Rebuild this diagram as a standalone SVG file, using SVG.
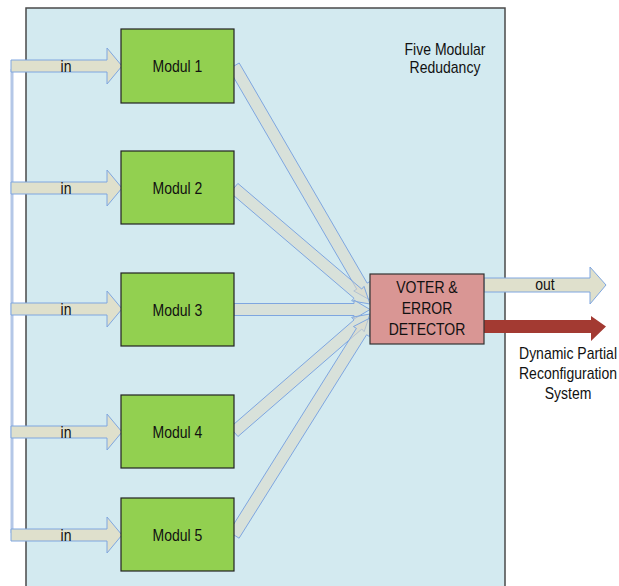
<svg xmlns="http://www.w3.org/2000/svg" width="619" height="586" viewBox="0 0 619 586">
  <defs>
    <style>
      .lbl { font-family: "Liberation Sans", Arial, sans-serif; font-size: 14px; fill: #111; text-anchor: middle; }
      .module { fill: #92d050; stroke: #222; stroke-width: 1.2; }
      .voter { fill: #d99694; stroke: #333; stroke-width: 1.2; }
      .inarrow { fill: #dfe0cc; stroke: #7ea6e0; stroke-width: 1; }
      .conv { fill: #dcd8c8; fill-opacity: 0.55; stroke: #7ea6e0; stroke-width: 1; }
    </style>
  </defs>

  <rect width="619" height="586" fill="#ffffff"/>

  <!-- system boundary -->
  <rect id="fmr-panel" x="26" y="8" width="479" height="590" fill="#d3eaf0" stroke="#4a4a4a" stroke-width="1.5"/>

  <g id="connectors">
    <!-- input bus -->
    <line x1="12" y1="69" x2="12" y2="533" stroke="#b4c7e7" stroke-width="3"/>
    <!-- inputs -->
    <polygon class="inarrow" points="11,60 107,60 107,48 122,66 107,84 107,72 11,72"/>
    <polygon class="inarrow" points="11,182 107,182 107,170 122,188 107,206 107,194 11,194"/>
    <polygon class="inarrow" points="11,303 107,303 107,291 122,309 107,327 107,315 11,315"/>
    <polygon class="inarrow" points="11,426 107,426 107,414 122,432 107,450 107,438 11,438"/>
    <polygon class="inarrow" points="11,529 107,529 107,517 122,535 107,553 107,541 11,541"/>
    <!-- module outputs to voter -->
    <polygon class="conv" points="239.19,62.98 367.15,283.15 370.17,281.40 370,300 353.75,290.94 356.77,289.19 228.81,69.02"/>
    <polygon class="conv" points="237.89,183.44 361.72,289.06 364.00,286.39 370,304 351.66,300.85 353.94,298.18 230.11,192.56"/>
    <polygon class="conv" points="234,303.5 354,303.5 354,300 370,309.5 354,319 354,315.5 234,315.5"/>
    <polygon class="conv" points="230.07,427.47 353.99,319.95 351.69,317.30 370,314 364.15,331.66 361.85,329.01 237.93,436.53"/>
    <polygon class="conv" points="228.92,531.81 356.42,328.37 353.45,326.52 370,318 369.55,336.60 366.58,334.75 239.08,538.19"/>
    <!-- outputs -->
    <polygon class="inarrow" points="484,278 590,278 590,267 606,285 590,304 590,292 484,292"/>
    <polygon fill="#a33a32" points="484,320 591,320 591,316 606,326.5 591,341 591,333 484,333"/>
  </g>

  <g class="lbl">
    <text transform="translate(66,72) scale(1,1.2)">in</text>
    <text transform="translate(66,194) scale(1,1.2)">in</text>
    <text transform="translate(66,315) scale(1,1.2)">in</text>
    <text transform="translate(66,438) scale(1,1.2)">in</text>
    <text transform="translate(66,541) scale(1,1.2)">in</text>
    <text transform="translate(545,290) scale(1,1.2)">out</text>
  </g>

  <g id="modul1">
    <rect class="module" x="121" y="29" width="113" height="74"/>
    <text class="lbl" transform="translate(177.5,72) scale(1,1.2)">Modul 1</text>
  </g>
  <g id="modul2">
    <rect class="module" x="121" y="151" width="113" height="73"/>
    <text class="lbl" transform="translate(177.5,193.5) scale(1,1.2)">Modul 2</text>
  </g>
  <g id="modul3">
    <rect class="module" x="121" y="273" width="113" height="73"/>
    <text class="lbl" transform="translate(177.5,315.5) scale(1,1.2)">Modul 3</text>
  </g>
  <g id="modul4">
    <rect class="module" x="121" y="395" width="113" height="73"/>
    <text class="lbl" transform="translate(177.5,437.5) scale(1,1.2)">Modul 4</text>
  </g>
  <g id="modul5">
    <rect class="module" x="121" y="498" width="113" height="73"/>
    <text class="lbl" transform="translate(177.5,540.5) scale(1,1.2)">Modul 5</text>
  </g>

  <g id="voter">
    <rect class="voter" x="370" y="274" width="114" height="70"/>
    <text class="lbl" transform="translate(427,293) scale(1,1.2)">VOTER &amp;</text>
    <text class="lbl" transform="translate(427,314) scale(1,1.2)">ERROR</text>
    <text class="lbl" transform="translate(427,335) scale(1,1.2)">DETECTOR</text>
  </g>

  <g id="title">
    <text class="lbl" transform="translate(445,55) scale(1,1.2)">Five Modular</text>
    <text class="lbl" transform="translate(445,73) scale(1,1.2)">Redudancy</text>
  </g>

  <g id="dpr">
    <text class="lbl" transform="translate(568,359) scale(1,1.2)">Dynamic Partial</text>
    <text class="lbl" transform="translate(568,379) scale(1,1.2)">Reconfiguration</text>
    <text class="lbl" transform="translate(568,399) scale(1,1.2)">System</text>
  </g>
</svg>
